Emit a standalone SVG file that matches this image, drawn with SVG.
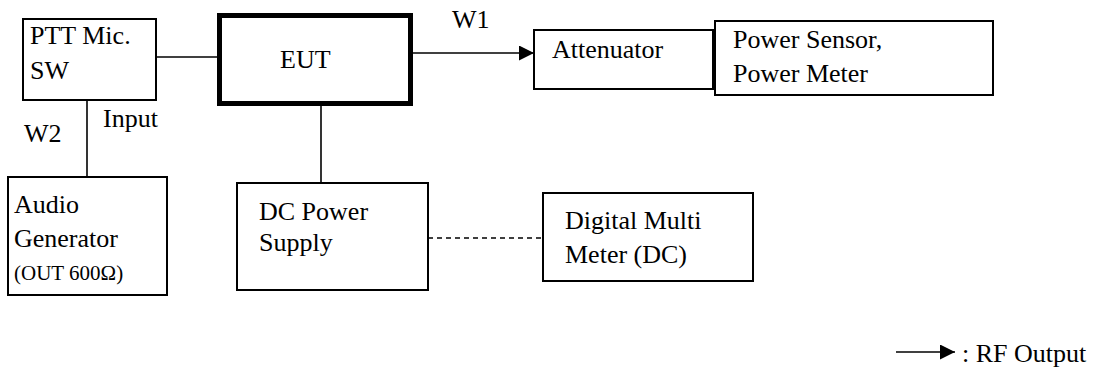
<svg xmlns="http://www.w3.org/2000/svg" width="1096" height="367" viewBox="0 0 1096 367">
<style>
.box{fill:#fff;stroke:#000;stroke-width:2}
.thick{fill:#fff;stroke:#000;stroke-width:5}
.ln{stroke:#000;stroke-width:1.6;fill:none}
.dash{stroke:#000;stroke-width:1.6;fill:none;stroke-dasharray:5 4}
text{font-family:"Liberation Serif","Times New Roman",serif;font-size:26px;fill:#000}
.sm{font-size:21px}
</style>
<defs>
<marker id="arr" markerUnits="userSpaceOnUse" markerWidth="16" markerHeight="16" refX="15" refY="7.5" orient="auto">
<path d="M0,0 L15,7.5 L0,15 Z" fill="#000"/>
</marker>
</defs>
<rect width="1096" height="367" fill="#fff"/>
<g id="connectors">
<line class="ln" x1="156" y1="57" x2="217" y2="57"/>
<line class="ln" x1="413" y1="53" x2="534" y2="53" marker-end="url(#arr)"/>
<line class="ln" x1="87" y1="100" x2="87" y2="177"/>
<line class="ln" x1="321" y1="106" x2="321" y2="183"/>
<line class="dash" x1="428" y1="238" x2="543" y2="238"/>
<text x="452" y="28">W1</text>
<text x="103" y="127">Input</text>
<text x="24" y="142">W2</text>
</g>
<g id="ptt">
<rect class="box" x="23" y="19" width="133" height="81"/>
<text x="30" y="44">PTT Mic.</text>
<text x="30" y="79">SW</text>
</g>
<g id="eut">
<rect class="thick" x="219.5" y="15.5" width="191" height="88"/>
<text x="280" y="68">EUT</text>
</g>
<g id="attenuator">
<rect class="box" x="534" y="30" width="179" height="59"/>
<text x="552" y="58">Attenuator</text>
</g>
<g id="powermeter">
<rect class="box" x="715" y="21" width="278" height="74"/>
<text x="733" y="48">Power Sensor,</text>
<text x="733" y="82">Power Meter</text>
</g>
<g id="audiogen">
<rect class="box" x="8" y="177" width="159" height="118"/>
<text x="14" y="213">Audio</text>
<text x="14" y="247">Generator</text>
<text class="sm" x="14" y="280">(OUT 600Ω)</text>
</g>
<g id="dcpower">
<rect class="box" x="237" y="183" width="191" height="107"/>
<text x="259" y="220">DC Power</text>
<text x="259" y="251">Supply</text>
</g>
<g id="dmm">
<rect class="box" x="543" y="193" width="210" height="88"/>
<text x="565" y="229">Digital Multi</text>
<text x="565" y="263">Meter (DC)</text>
</g>
<g id="legend">
<line class="ln" x1="896" y1="352" x2="955" y2="352" marker-end="url(#arr)"/>
<text x="962" y="362">: RF Output</text>
</g>
</svg>
